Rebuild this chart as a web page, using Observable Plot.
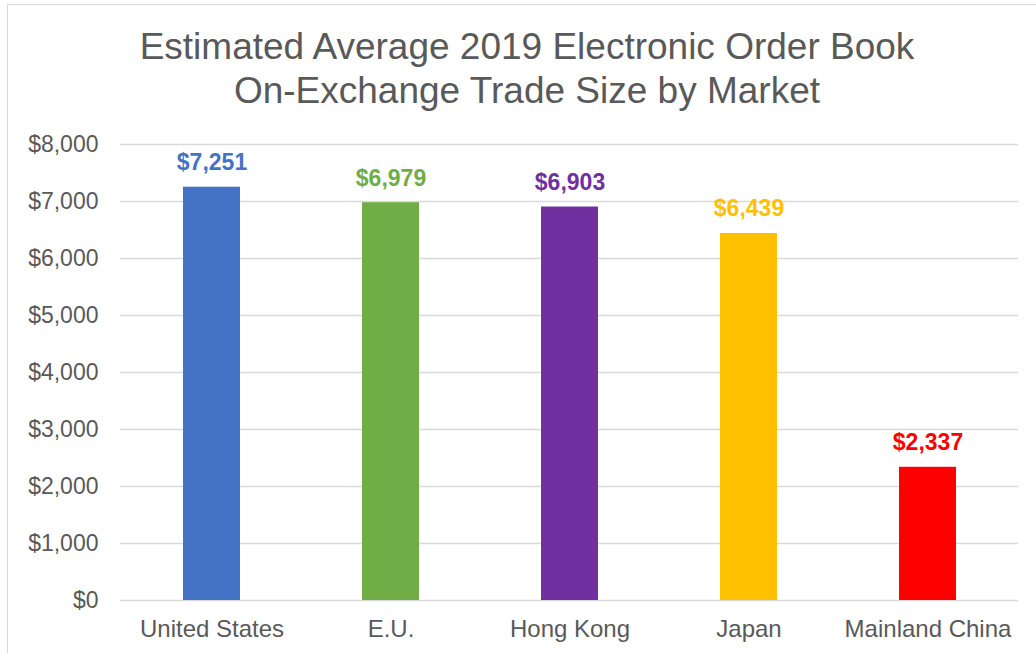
<!DOCTYPE html>
<html>
<head>
<meta charset="utf-8">
<script src="https://cdn.jsdelivr.net/npm/d3@7"></script>
<script src="https://cdn.jsdelivr.net/npm/@observablehq/plot@0.6"></script>
<style>
  html, body { margin: 0; padding: 0; background: #fff; overflow: hidden; }
  #wrap { position: relative; width: 1036px; height: 653px; overflow: hidden; font-family: "Liberation Sans", Arial, sans-serif; }
  #border { position: absolute; left: 7px; top: 4px; width: 1100px; height: 700px; border: 1px solid #d9d9d9; box-sizing: border-box; }
  #title { position: absolute; left: 0; top: 0; width: 1054px; height: 125px; box-sizing: border-box; padding-top: 25px; text-align: center; font-size: 37px; line-height: 44px; color: #595959; }
  #chart { position: absolute; left: 0; top: 125px; }
</style>
</head>
<body>
<div id="wrap">
  <div id="border"></div>
  <div id="title">Estimated Average 2019 Electronic Order Book<br>On-Exchange Trade Size by Market</div>
  <div id="chart"></div>
</div>
<script>
const markets = ["United States", "E.U.", "Hong Kong", "Japan", "Mainland China"];
const values = [7251, 6979, 6903, 6439, 2337];
const colors = ["#4472C4", "#70AD47", "#7030A0", "#FFC000", "#FF0000"];
const yTicks = [0, 1000, 2000, 3000, 4000, 5000, 6000, 7000, 8000];

const data = markets.map((m, i) => ({market: m, value: values[i], color: colors[i]}));
const fmt = d => "$" + d3.format(",")(d);

const chart = Plot.plot({
  width: 1036,
  height: 528,
  marginLeft: 120,
  marginRight: 18,
  marginTop: 19,
  marginBottom: 53,
  style: {fontFamily: "'Liberation Sans', Arial, sans-serif", background: "transparent"},
  x: {domain: markets, paddingInner: 0.683, paddingOuter: 0.3415, label: null},
  y: {domain: [0, 8000], label: null},
  marks: [
    Plot.gridY(yTicks, {stroke: "#d9d9d9", strokeOpacity: 1, strokeWidth: 1.3}),
    Plot.axisY(yTicks, {tickSize: 0, tickPadding: 22, tickFormat: fmt, fontSize: 23, fill: "#595959"}),
    Plot.axisX({tickSize: 0, tickPadding: 19, fontSize: 24, fill: "#595959"}),
    Plot.barY(data, {x: "market", y: "value", fill: d => d.color}),
    Plot.text(data, {x: "market", y: "value", text: d => fmt(d.value), fill: d => d.color,
      fontSize: 23, fontWeight: "bold", lineAnchor: "bottom", dy: -17})
  ]
});
document.getElementById("chart").appendChild(chart);
</script>
</body>
</html>
